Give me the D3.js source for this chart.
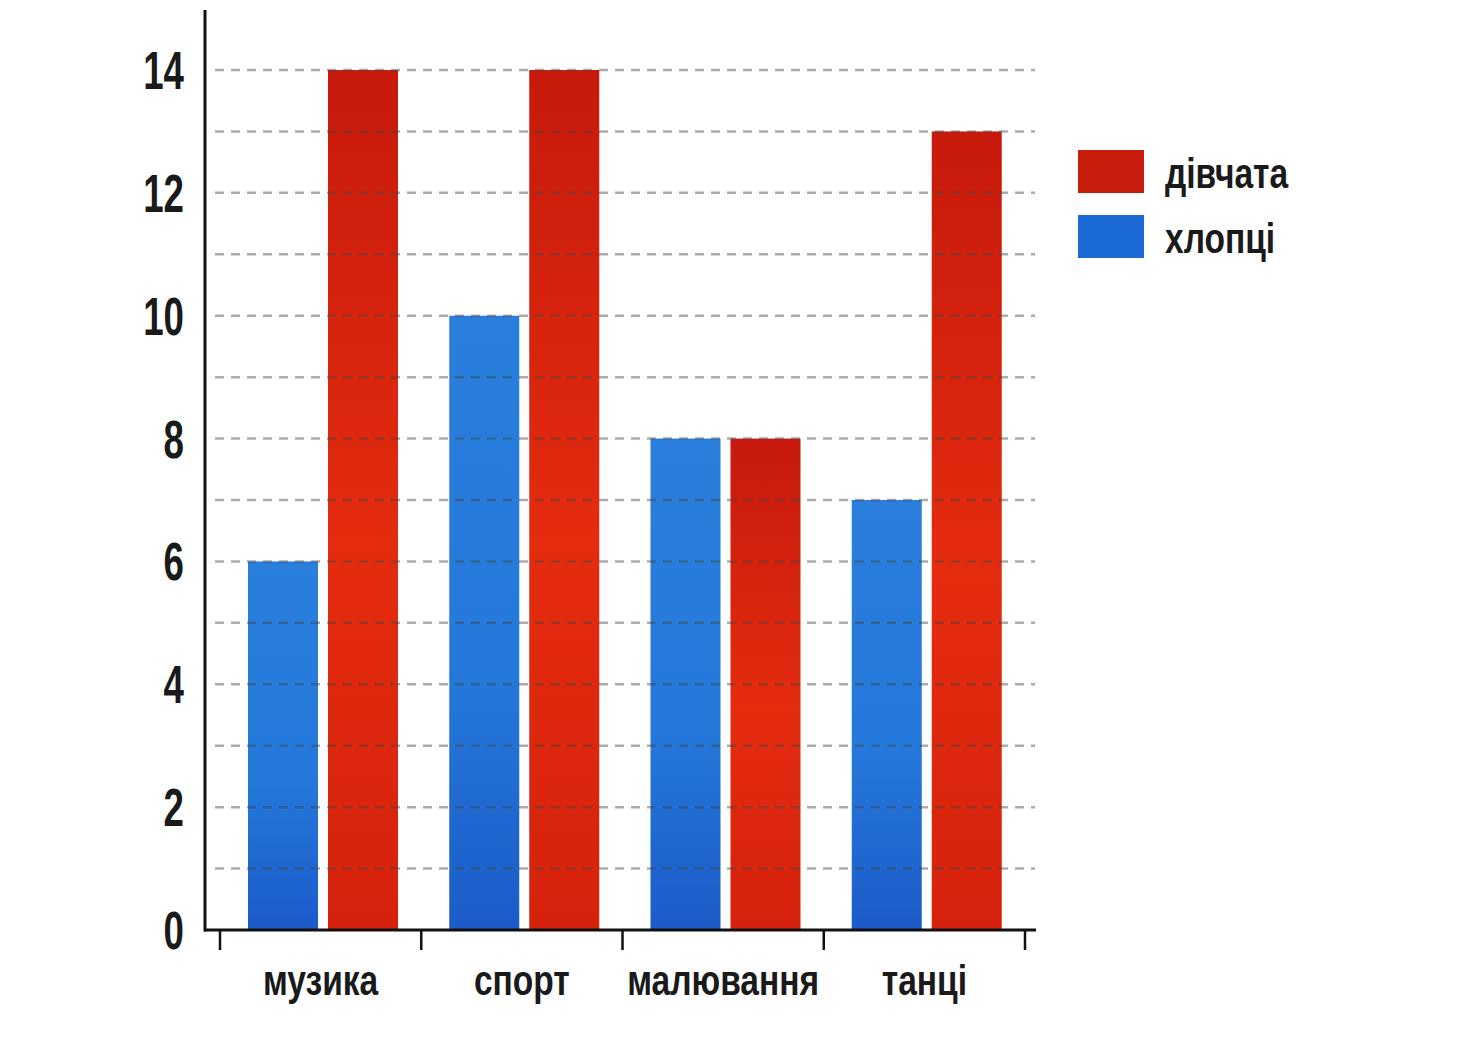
<!doctype html>
<html lang="uk">
<head>
    <meta charset="UTF-8">
    <title>Гуртки: дівчата і хлопці</title>
    <script type="text/javascript" src="https://cdn.jsdelivr.net/npm/d3@7"></script>
    <style type="text/css">
        body { margin: 0; background: #fff; }
        svg { display: block; }
        text { font-family: "Liberation Sans", Arial, sans-serif; fill: #1a1a1a; }
    </style>
</head>
<body>
<script type="text/javascript">
    var width = 1460;
    var height = 1058;

    // data
    var categories = ["музика", "спорт", "малювання", "танці"];
    var series = ["хлопці", "дівчата"];
    var boys = [6, 10, 8, 7];
    var girls = [14, 14, 8, 13];
    var y_ticks = [0, 2, 4, 6, 8, 10, 12, 14];
    var legend_order = ["дівчата", "хлопці"];

    var values = {"хлопці": boys, "дівчата": girls};
    var colors = {"хлопці": "url(#blueGrad)", "дівчата": "url(#redGrad)"};
    var swatch = {"хлопці": "#1c6ad6", "дівчата": "#c81d0d"};

    var svg = d3.select("body").append("svg").attr("width", width).attr("height", height);

    var defs = svg.append("defs");
    var rg = defs.append("linearGradient").attr("id", "redGrad").attr("x1", 0).attr("y1", 0).attr("x2", 0).attr("y2", 1);
    rg.append("stop").attr("offset", "0%").attr("stop-color", "#c71a0c");
    rg.append("stop").attr("offset", "55%").attr("stop-color", "#e42c0f");
    rg.append("stop").attr("offset", "100%").attr("stop-color", "#d6220d");
    var bg = defs.append("linearGradient").attr("id", "blueGrad").attr("x1", 0).attr("y1", 0).attr("x2", 0).attr("y2", 1);
    bg.append("stop").attr("offset", "0%").attr("stop-color", "#2a7fdc");
    bg.append("stop").attr("offset", "60%").attr("stop-color", "#2478da");
    bg.append("stop").attr("offset", "100%").attr("stop-color", "#1c5bc9");

    // scales
    var x_scale = d3.scaleBand().domain(categories).range([220, 1025]).paddingInner(0);
    var x_sub = d3.scaleBand().domain(series).range([28, 178]).paddingInner(0.125);
    var y_scale = d3.scaleLinear().domain([0, 14]).range([930, 70]);

    // the printed font is a condensed one, so squeeze text sideways
    function place(x, y, k) {
        return "translate(" + x + "," + y + ") scale(" + k + ",1)";
    }

    // bars
    var groups = svg.selectAll("g.cat")
        .data(categories)
        .enter()
        .append("g")
        .attr("class", "cat")
        .attr("transform", function (d) {
            return "translate(" + x_scale(d) + ",0)";
        });

    groups.selectAll("rect")
        .data(function (d, i) {
            return series.map(function (s) {
                return {s: s, v: values[s][i]};
            });
        })
        .enter()
        .append("rect")
        .attr("x", function (d) { return x_sub(d.s); })
        .attr("width", x_sub.bandwidth())
        .attr("y", function (d) { return y_scale(d.v); })
        .attr("height", function (d) { return y_scale(0) - y_scale(d.v); })
        .attr("fill", function (d) { return colors[d.s]; });

    // dashed grid, drawn over the bars
    var grid_values = d3.range(1, 15);
    svg.append("g")
        .selectAll("line")
        .data(grid_values)
        .enter()
        .append("line")
        .attr("x1", 215)
        .attr("x2", 1035)
        .attr("y1", function (d) { return y_scale(d); })
        .attr("y2", function (d) { return y_scale(d); })
        .attr("stroke", "#444")
        .attr("stroke-opacity", 0.45)
        .attr("stroke-width", 2.5)
        .attr("stroke-dasharray", "9,7");

    // y axis
    svg.append("line")
        .attr("x1", 205).attr("x2", 205)
        .attr("y1", 10).attr("y2", y_scale(0) + 1.5)
        .attr("stroke", "#111").attr("stroke-width", 3);

    svg.append("g")
        .selectAll("text")
        .data(y_ticks)
        .enter()
        .append("text")
        .attr("transform", function (d) { return place(184, y_scale(d) + 19, 0.68); })
        .attr("text-anchor", "end")
        .style("font-size", "54px")
        .style("font-weight", "bold")
        .text(function (d) { return d; });

    // x axis
    svg.append("line")
        .attr("x1", 204).attr("x2", 1036)
        .attr("y1", y_scale(0)).attr("y2", y_scale(0))
        .attr("stroke", "#111").attr("stroke-width", 3);

    var boundaries = categories.map(function (c) { return x_scale(c); }).concat([x_scale.range()[1]]);
    svg.append("g")
        .selectAll("line")
        .data(boundaries)
        .enter()
        .append("line")
        .attr("x1", function (d) { return d; })
        .attr("x2", function (d) { return d; })
        .attr("y1", y_scale(0))
        .attr("y2", y_scale(0) + 20)
        .attr("stroke", "#111")
        .attr("stroke-width", 2.5);

    svg.append("g")
        .selectAll("text")
        .data(categories)
        .enter()
        .append("text")
        .attr("transform", function (d) { return place(x_scale(d) + x_scale.bandwidth() / 2, 995, 0.78); })
        .attr("text-anchor", "middle")
        .style("font-size", "43px")
        .style("font-weight", "bold")
        .text(function (d) { return d; });

    // legend
    var legend = svg.append("g").attr("transform", "translate(1078,150)");
    var items = legend.selectAll("g")
        .data(legend_order)
        .enter()
        .append("g")
        .attr("transform", function (d, i) { return "translate(0," + (i * 65) + ")"; });
    items.append("rect")
        .attr("width", 66)
        .attr("height", 43)
        .attr("fill", function (d) { return swatch[d]; });
    items.append("text")
        .attr("transform", place(87, 38, 0.78))
        .style("font-size", "43px")
        .style("font-weight", "bold")
        .text(function (d) { return d; });
</script>
</body>
</html>
